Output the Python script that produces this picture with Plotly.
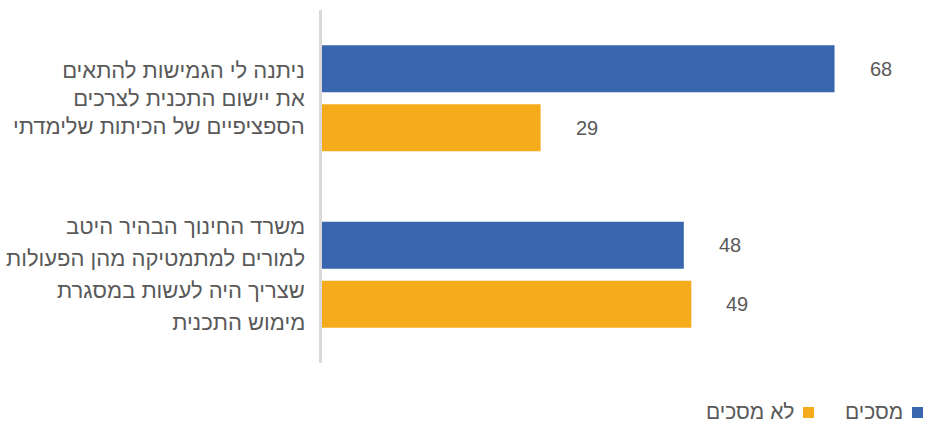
import plotly.graph_objects as go

# Survey statements (each line of the wrapped label kept separately)
statements = [
    [" ניתנה לי הגמישות להתאים", " את יישום התכנית לצרכים", "הספציפיים של הכיתות שלימדתי"],
    ["משרד החינוך הבהיר היטב", "למורים למתמטיקה מהן הפעולות", "שצריך היה לעשות במסגרת", " מימוש התכנית"],
]
series_names = ["מסכים", "לא מסכים"]
agree = [68, 48]
disagree = [29, 49]

colors = ["#3966AF", "#F6AB1C"]
text_color = "#595959"
font_family = "Liberation Sans, DejaVu Sans, Arial, sans-serif"

W, H = 927, 421
ML, MR, MT, MB = 322, 2, 10, 58
plot_w = W - ML - MR
plot_h = H - MT - MB

# bar geometry in category units
bar_w = 0.266
inner_gap = 0.068
offsets = [-(bar_w + inner_gap / 2), inner_gap / 2]

cat_pos = list(range(len(statements)))
fig = go.Figure()
for name, vals, col, off in zip(series_names, [agree, disagree], colors, offsets):
    fig.add_trace(go.Bar(
        x=vals, y=cat_pos, orientation="h", name=name,
        marker=dict(color=col, line=dict(width=0)),
        width=bar_w, offset=off, showlegend=False,
    ))

annotations = []
# value labels placed past the end of each bar
for vals, off in zip([agree, disagree], offsets):
    for i, v in enumerate(vals):
        annotations.append(dict(
            x=v, y=i + off + bar_w / 2, xref="x", yref="y",
            text=str(v), showarrow=False, xanchor="left", yanchor="middle",
            xshift=33, font=dict(size=20, color=text_color, family=font_family),
        ))

# category labels, right-aligned left of the axis
line_spacing = [28, 32]
for i, lines in enumerate(statements):
    n = len(lines)
    for k, ln in enumerate(lines):
        annotations.append(dict(
            x=0, y=i, xref="x", yref="y", text=ln, showarrow=False,
            xanchor="right", yanchor="middle", xshift=-15,
            yshift=-(k - (n - 1) / 2) * line_spacing[i],
            font=dict(size=22, color=text_color, family=font_family),
        ))


def px_to_paper_x(px):
    return (px - ML) / plot_w


def px_to_paper_y(py):
    return (H - MB - py) / plot_h


# legend drawn right-to-left: square to the right of its label
legend_items = [(series_names[0], colors[0], 912), (series_names[1], colors[1], 803)]
shapes = []
for name, col, sq_left in legend_items:
    shapes.append(dict(
        type="rect", xref="paper", yref="paper",
        x0=px_to_paper_x(sq_left), x1=px_to_paper_x(sq_left + 11),
        y0=px_to_paper_y(418), y1=px_to_paper_y(407),
        fillcolor=col, line=dict(width=0),
    ))
    annotations.append(dict(
        x=px_to_paper_x(sq_left - 8), y=px_to_paper_y(411), xref="paper", yref="paper",
        text=name, showarrow=False, xanchor="right", yanchor="middle",
        height=18, borderpad=0, valign="middle",
        font=dict(size=21, color=text_color, family=font_family),
    ))

fig.update_layout(
    width=W, height=H,
    margin=dict(l=ML, r=MR, t=MT, b=MB),
    paper_bgcolor="white", plot_bgcolor="white",
    barmode="overlay",
    xaxis=dict(range=[0, 80], showgrid=False, zeroline=False, showticklabels=False,
               showline=False, ticks=""),
    yaxis=dict(range=[1.5, -0.5], showgrid=False, zeroline=False, showticklabels=False,
               showline=True, linecolor="#D9D9D9", linewidth=2.5, ticks="", mirror=False),
    annotations=annotations,
    shapes=shapes,
)

fig.write_html("out.html")
